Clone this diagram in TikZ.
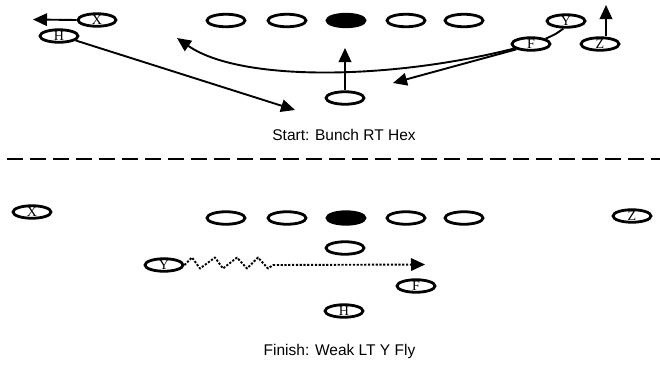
\documentclass[tikz,border=0pt]{standalone}
\usepackage{fontspec}
\setmainfont{Liberation Serif}
\newfontfamily\capfont{Liberation Sans}
\usetikzlibrary{shapes.geometric,arrows.meta}
\newcommand{\plyr}[1]{\makebox[0pt]{\raisebox{-4.6pt}[0pt][0pt]{\fontsize{14pt}{14pt}\selectfont #1}}}
\tikzset{
  player/.style={ellipse,draw,line width=2.8pt,minimum width=38pt,minimum height=12.5pt,inner sep=0pt,fill=white},
  lineman/.style={player},
  center/.style={player,fill=black},
  route/.style={line width=1.9pt},
  arr/.style={route,-{Triangle[length=14pt,width=12.5pt]}},
  dotroute/.style={line width=1.9pt,dash pattern=on 2.2pt off 1.6pt},
  caption/.style={font=\capfont\fontsize{15.5pt}{16pt}\selectfont,anchor=base}
}
\begin{document}
\begin{tikzpicture}[x=1pt,y=-1pt]
\useasboundingbox (0,0) rectangle (660,364);
% ---------- top formation ----------
\node[lineman] (tL1) at (226,20.5) {};
\node[lineman] (tL2) at (287,20.5) {};
\node[center]  (tC)  at (346,20.5) {};
\node[lineman] (tL4) at (406,20.5) {};
\node[lineman] (tL5) at (464,20.5) {};
\node[player] (tQB) at (345,98) {};
\node[player] (tX) at (97,20) {\plyr{X}};
\node[player] (tH) at (59,36) {\plyr{H}};
\node[player] (tY) at (566,21) {\plyr{Y}};
\node[player] (tZ) at (600,44) {\plyr{Z}};
\coordinate (tXtip) at (33,19.5);
\coordinate (tHtip) at (295,110);
\coordinate (tQBtip) at (345,48);
\coordinate (tZtip) at (606,5);
\coordinate (tFtip) at (393,83);
\coordinate (tCtip) at (177,38);
\draw[arr] (tX.west) -- (tXtip);
\draw[arr] (tH.-15) -- (tHtip);
\draw[arr] (tQB.north) -- (tQBtip);
\draw[arr] (tZ.north -| tZtip) -- (tZtip);
\node[player] (tF) at (531,44) {\plyr{F}};
\draw[route] (tY.250) .. controls (556,34) .. (tF.20);
\draw[arr] (tF.195) .. controls (390,80) and (240,82) .. (tCtip);
\draw[arr] (tF.200) -- (tFtip);
\node[caption] (cap1) at (344,140.7) {Start: Bunch RT Hex};
% ---------- separator ----------
\coordinate (sepL) at (7,159);
\coordinate (sepR) at (660,159);
\draw[line width=2.2pt,dash pattern=on 16pt off 7pt] (sepL) -- (sepR);
% ---------- bottom formation ----------
\node[lineman] (bL1) at (226,218) {};
\node[lineman] (bL2) at (287,218) {};
\node[center]  (bC)  at (346,218) {};
\node[lineman] (bL4) at (406,218) {};
\node[lineman] (bL5) at (464,218) {};
\node[player] (bQB) at (345,248) {};
\node[player] (bX) at (32,212) {\plyr{X}};
\node[player] (bZ) at (632,216) {\plyr{Z}};
\node[player] (bY) at (164,265) {\plyr{Y}};
\node[player] (bF) at (416,286) {\plyr{F}};
\node[player] (bH) at (344,311) {\plyr{H}};
\coordinate (zzEnd) at (273,265);
\coordinate (bTip) at (425,264.5);
\draw[dotroute,line join=round] (bY.east) -- (192,257.5) -- (200,268.5) -- (215,257.5) -- (223,268.5)
  -- (237,257.5) -- (247,268.5) -- (258,257.5) -- (268,268.5) -- (zzEnd);
\draw[dotroute,-{Triangle[length=14pt,width=12.5pt]}] (zzEnd) -- (bTip);
\node[caption] (cap2) at (339.5,355.7) {Finish: Weak LT Y Fly};
\end{tikzpicture}
\end{document}
